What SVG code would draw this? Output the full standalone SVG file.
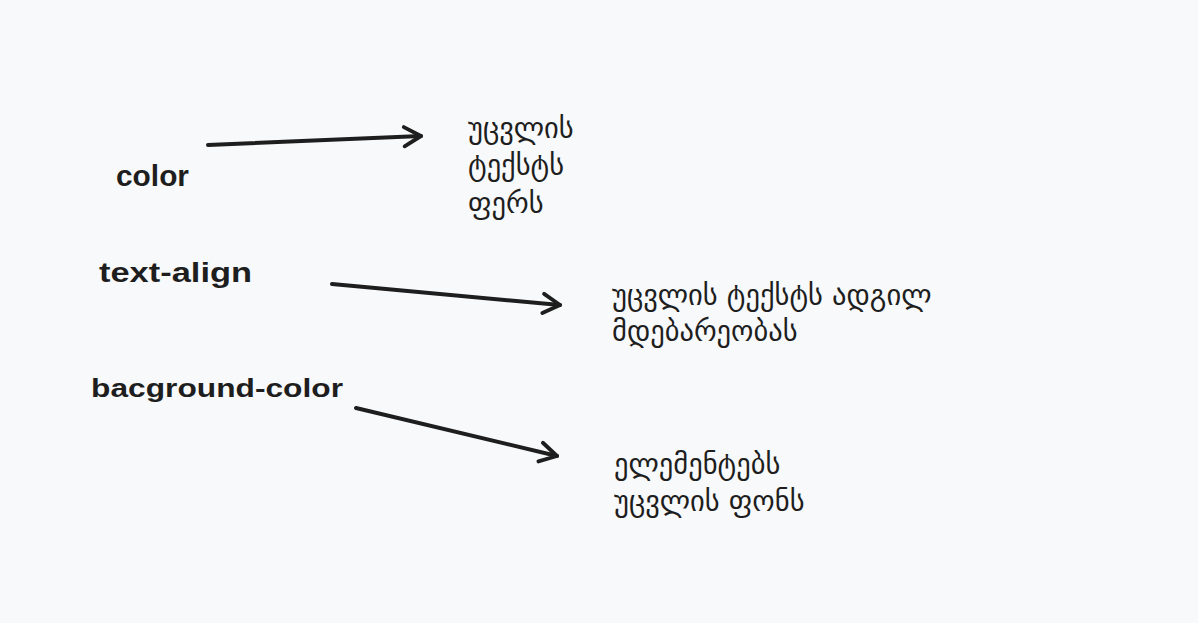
<svg xmlns="http://www.w3.org/2000/svg" width="1198" height="623" viewBox="0 0 1198 623">
<defs>
<style>
.lbl{font-family:"Liberation Sans",Arial,sans-serif;font-weight:bold;font-size:26px;fill:#1e1e1e}
.geo{font-family:"DejaVu Sans","Noto Sans",sans-serif;font-size:28.5px;fill:#1e1e1e}
.conn{fill:none;stroke:#1e1e1e;stroke-width:4;stroke-linecap:round;stroke-linejoin:round}
</style>
<marker id="ah" viewBox="0 0 20 20" refX="16" refY="10" markerWidth="6" markerHeight="6" orient="auto" markerUnits="strokeWidth">
<path d="M2 2 L16 10 L2 18" fill="none" stroke="#1e1e1e" stroke-width="3.2" stroke-linecap="round" stroke-linejoin="round"/>
</marker>
</defs>
<rect width="1198" height="623" fill="#f8f9fa"/>
<g id="n-color"><text class="lbl" x="116" y="186" style="font-size:30px" textLength="73" lengthAdjust="spacingAndGlyphs">color</text></g>
<g id="n-textalign"><text class="lbl" x="99" y="282" style="font-size:27px" textLength="153" lengthAdjust="spacingAndGlyphs">text-align</text></g>
<g id="n-bg"><text class="lbl" x="91" y="397" textLength="252" lengthAdjust="spacingAndGlyphs">bacground-color</text></g>
<g id="n-d1">
<text class="geo" x="468" y="138">უცვლის</text>
<text class="geo" x="468" y="175">ტექსტს</text>
<text class="geo" x="468" y="213">ფერს</text>
</g>
<g id="n-d2">
<text class="geo" x="612" y="305">უცვლის ტექსტს ადგილ</text>
<text class="geo" x="612" y="341">მდებარეობას</text>
</g>
<g id="n-d3">
<text class="geo" x="614" y="474">ელემენტებს</text>
<text class="geo" x="614" y="511">უცვლის ფონს</text>
</g>
<g id="connectors">
<path class="conn" d="M208 145 L421 136" marker-end="url(#ah)"/>
<path class="conn" d="M332 284 L560 305" marker-end="url(#ah)"/>
<path class="conn" d="M356 408 L557 456" marker-end="url(#ah)"/>
</g>
</svg>
